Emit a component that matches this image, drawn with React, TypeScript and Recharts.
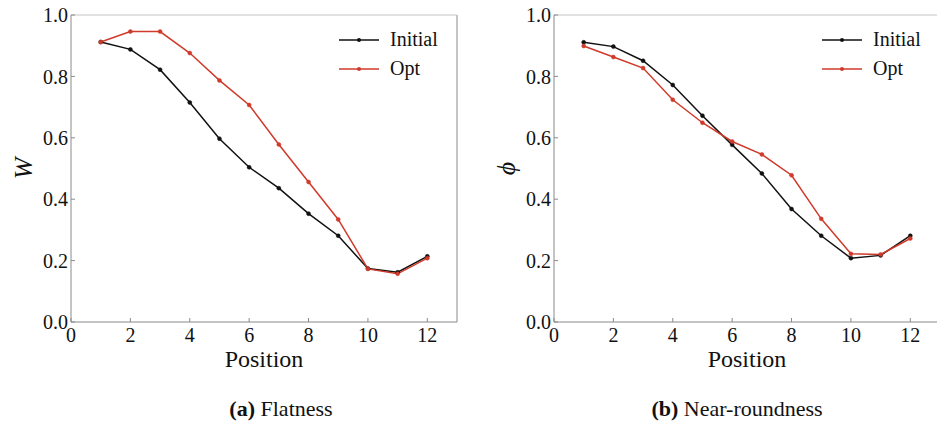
import React from "react";
import { LineChart, Line, XAxis, YAxis, ReferenceLine, Label, Legend } from "recharts";

// Measurement positions along the part (1..12)
const positions = [1, 2, 3, 4, 5, 6, 7, 8, 9, 10, 11, 12];

// (a) Flatness W
const flatInitial = [0.912, 0.888, 0.822, 0.715, 0.597, 0.504, 0.436, 0.353, 0.281, 0.174, 0.162, 0.214];
const flatOpt = [0.912, 0.946, 0.946, 0.876, 0.787, 0.707, 0.578, 0.456, 0.334, 0.173, 0.157, 0.208];

// (b) Near-roundness phi
const roundInitial = [0.911, 0.897, 0.851, 0.772, 0.672, 0.577, 0.484, 0.368, 0.281, 0.208, 0.217, 0.281];
const roundOpt = [0.899, 0.863, 0.827, 0.724, 0.649, 0.588, 0.546, 0.478, 0.336, 0.222, 0.220, 0.272];

const xTicks = [0, 2, 4, 6, 8, 10, 12];
const yTicks = [0, 0.2, 0.4, 0.6, 0.8, 1.0];

const SERIF = "'Liberation Serif', 'DejaVu Serif', Tinos, serif";
const AXIS = "#8a8a8a";
const FRAME = "#c4c4c4";
const BLACK = "#111111";
const RED = "#d03a2a";

const W = 470;
const H = 380;
const X_MARGIN = 6;
const Y_MARGIN = 3;

const toRows = (initial: number[], opt: number[]) =>
  positions.map((p, i) => ({ pos: p, initial: initial[i], opt: opt[i] }));

// ticks point into the plot, so draw them together with the label
const XTick = (props: any) => {
  const { x, y, payload } = props;
  const axisY = y - X_MARGIN;
  return (
    <g>
      <line x1={x} x2={x} y1={axisY} y2={axisY - 4} stroke={AXIS} />
      <text x={x} y={y} dy="0.71em" textAnchor="middle" style={{ fontFamily: SERIF }} fontSize={20} fill="#111">
        {payload.value}
      </text>
    </g>
  );
};

const YTick = (props: any) => {
  const { x, y, payload } = props;
  const axisX = x + Y_MARGIN;
  return (
    <g>
      <line x1={axisX} x2={axisX + 4} y1={y} y2={y} stroke={AXIS} />
      <text x={x} y={y} dy="0.355em" textAnchor="end" style={{ fontFamily: SERIF }} fontSize={20} fill="#111">
        {Number(payload.value).toFixed(1)}
      </text>
    </g>
  );
};

const LegendBox = ({ payload }: any) => (
  <div>
    {payload.map((e: any) => (
      <div key={e.value} style={{ display: "flex", alignItems: "center", height: 29 }}>
        <svg width={48} height={10}>
          <line x1={4} x2={44} y1={5} y2={5} stroke={e.color} strokeWidth={1.6} />
          <circle cx={24} cy={5} r={2} fill={e.color} />
        </svg>
        <span style={{ fontFamily: SERIF, fontSize: 20, color: "#111", marginLeft: 7 }}>{e.value}</span>
      </div>
    ))}
  </div>
);

const Panel: React.FC<{ data: any[]; yLabel: string }> = ({ data, yLabel }) => (
  <LineChart width={W} height={H} data={data} margin={{ top: 15, right: 13, left: 0, bottom: 10 }}>
    <XAxis
      dataKey="pos"
      type="number"
      domain={[0, 13]}
      ticks={xTicks}
      tickSize={0}
      tickMargin={X_MARGIN}
      tick={<XTick />}
      stroke={AXIS}
      height={48}
    >
      <Label
        content={({ viewBox }: any) => (
          <text x={viewBox.x + viewBox.width / 2} y={viewBox.y + 45} textAnchor="middle" style={{ fontFamily: SERIF }} fontSize={24} fill="#111">
            Position
          </text>
        )}
      />
    </XAxis>
    <YAxis
      type="number"
      domain={[0, 1]}
      ticks={yTicks}
      tickSize={0}
      tickMargin={Y_MARGIN}
      tick={<YTick />}
      stroke={AXIS}
      width={71}
    >
      <Label
        content={({ viewBox }: any) => {
          const cx = viewBox.x + 23;
          const cy = viewBox.y + viewBox.height / 2;
          return (
            <text x={cx} y={cy} dy="0.35em" textAnchor="middle" style={{ fontFamily: SERIF, fontStyle: "italic" }} fontSize={26} fill="#111" transform={`rotate(-90 ${cx} ${cy})`}>
              {yLabel}
            </text>
          );
        }}
      />
    </YAxis>
    <ReferenceLine y={1} stroke={FRAME} strokeWidth={1} />
    <ReferenceLine x={13} stroke={FRAME} strokeWidth={2} />
    {/* vertical + centred legend keeps it out of the plot offset */}
    <Legend
      layout="vertical"
      verticalAlign="middle"
      align="center"
      content={<LegendBox />}
      wrapperStyle={{ position: "absolute", left: 335, top: 25, width: 130 }}
    />
    <Line dataKey="initial" name="Initial" stroke={BLACK} strokeWidth={1.5} dot={{ r: 2, fill: BLACK, stroke: BLACK, strokeWidth: 0.5 }} isAnimationActive={false} />
    <Line dataKey="opt" name="Opt" stroke={RED} strokeWidth={1.5} dot={{ r: 2, fill: RED, stroke: RED, strokeWidth: 0.5 }} isAnimationActive={false} />
  </LineChart>
);

const captionStyle: React.CSSProperties = {
  position: "absolute",
  top: 396,
  fontFamily: SERIF,
  fontSize: 22,
  color: "#111",
  whiteSpace: "nowrap",
  transform: "translateX(-50%)",
};

export default function App() {
  return (
    <div style={{ position: "absolute", left: 0, top: 0, width: 937, height: 423, overflow: "hidden", background: "#fff" }}>
      <div style={{ position: "absolute", left: 0, top: 0 }}>
        <Panel data={toRows(flatInitial, flatOpt)} yLabel="W" />
      </div>
      <div style={{ position: "absolute", left: 483, top: 0 }}>
        <Panel data={toRows(roundInitial, roundOpt)} yLabel="ϕ" />
      </div>
      <div style={{ ...captionStyle, left: 281 }}>
        <b>(a)</b> Flatness
      </div>
      <div style={{ ...captionStyle, left: 737 }}>
        <b>(b)</b> Near-roundness
      </div>
    </div>
  );
}
